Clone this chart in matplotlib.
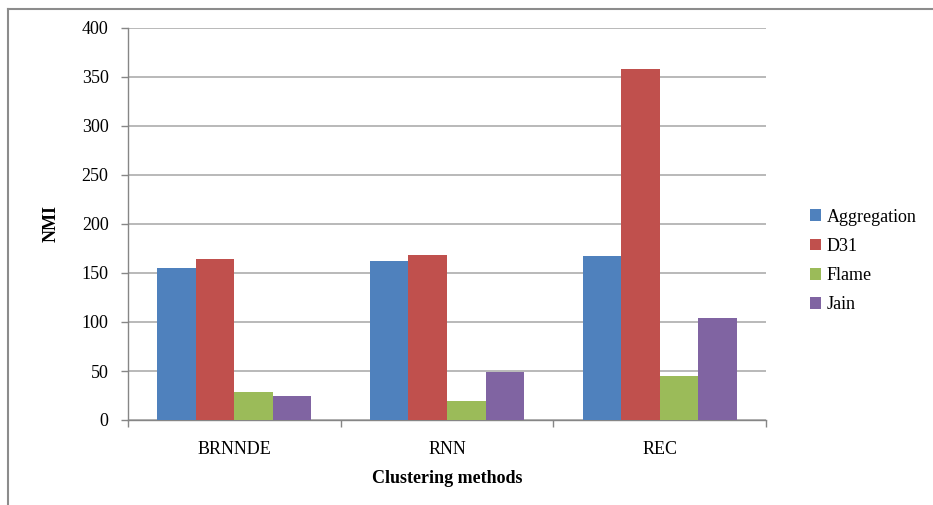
import numpy as np
import matplotlib.pyplot as plt
from matplotlib.lines import Line2D
from matplotlib.ticker import FixedLocator

methods = ["BRNNDE", "RNN", "REC"]
series = ["Aggregation", "D31", "Flame", "Jain"]
aggregation = [155.5, 162.5, 167.0]
d31 = [164.5, 168.5, 358.0]
flame = [29.0, 19.5, 44.5]
jain = [24.5, 49.0, 104.0]
colors = ["#4F81BD", "#C0504D", "#9BBB59", "#8064A2"]
y_ticks = [0, 50, 100, 150, 200, 250, 300, 350, 400]

plt.rcParams['font.family'] = ['Liberation Serif', 'DejaVu Serif']

fig = plt.figure(figsize=(9.33, 5.05), dpi=100)
ax = fig.add_axes([128 / 933, 1 - 420 / 505, 638 / 933, 392 / 505])

x = np.arange(len(methods))
group_w = 1 / 1.38
bar_w = group_w / len(series)
for i, (name, vals) in enumerate(zip(series, [aggregation, d31, flame, jain])):
    offs = -group_w / 2 + bar_w * (i + 0.5)
    ax.bar(x + offs, vals, bar_w, color=colors[i], label=name, zorder=3)

ax.set_xlim(-0.5, len(methods) - 0.5)
ax.set_ylim(0, 400)
ax.set_yticks(y_ticks)
ax.yaxis.grid(True, color="#A6A6A6", linewidth=1.1, zorder=0)
ax.set_xticks(x)
ax.set_xticklabels(methods, fontsize=13)
ax.tick_params(axis='x', length=0, pad=15)
ax.xaxis.set_minor_locator(FixedLocator(np.arange(-0.5, len(methods), 1)))
ax.tick_params(axis='x', which='minor', length=5, color="#868686", width=1)
ax.tick_params(axis='y', labelsize=13, length=5, color="#868686", width=1, pad=9)

for s in ["top", "right"]:
    ax.spines[s].set_visible(False)
for s in ["left", "bottom"]:
    ax.spines[s].set_color("#868686")
    ax.spines[s].set_linewidth(1)

ax.set_ylabel("NMI", fontsize=13, fontweight="bold", labelpad=16)
ax.set_xlabel("Clustering methods", fontsize=13, fontweight="bold", labelpad=9)

ax.legend(loc="center left", bbox_to_anchor=(794 / 933, 1 - 261 / 505),
          bbox_transform=fig.transFigure, frameon=False, fontsize=13,
          handlelength=0.6, handleheight=0.6, handletextpad=0.3,
          labelspacing=0.68)

# frame lines along the top and left edges of the figure
fig.add_artist(Line2D([8 / 933, 1], [1 - 9 / 505, 1 - 9 / 505],
                      transform=fig.transFigure, color="#8C8C8C", linewidth=1.5))
fig.add_artist(Line2D([8 / 933, 8 / 933], [0, 1 - 9 / 505],
                      transform=fig.transFigure, color="#8C8C8C", linewidth=1.5))

fig.savefig("out.png", dpi=100)
